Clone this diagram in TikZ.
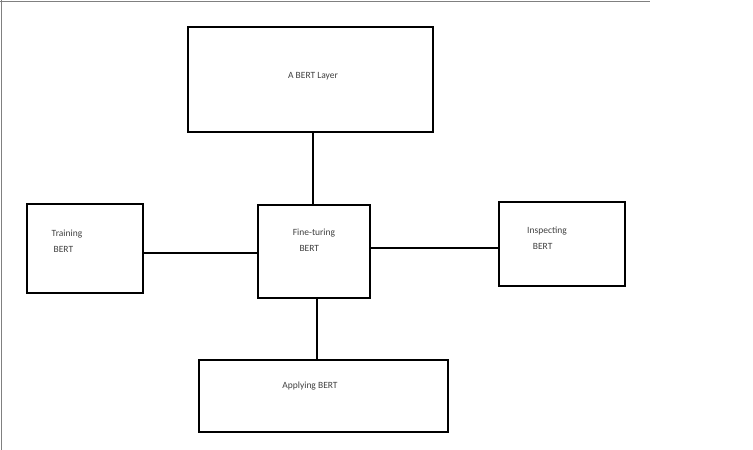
\documentclass[tikz,border=0pt]{standalone}
\usepackage{fontspec}
\setmainfont{Carlito}
\tikzset{
  box/.style   = {shape=rectangle, draw, line width=1.6pt, inner sep=0pt},
  lbl/.style   = {align=left, font=\fontsize{9.5}{16}\selectfont, text=black!75},
  link/.style  = {line width=1.6pt}
}
\begin{document}
\begin{tikzpicture}[x=1pt,y=-1pt]
 \useasboundingbox (0,0) rectangle (753,450);
 \draw[gray, line width=1pt] (0,1) -- (650,1);
 \draw[gray, line width=1pt] (1,0) -- (1,450);

 % boxes
 \node[box, minimum width=245pt, minimum height=105pt] (layer) at (310.5,79.5) {};
 \node[box, minimum width=112pt, minimum height=93pt]  (fine)  at (314,251.5) {};
 \node[box, minimum width=116pt, minimum height=89pt]  (train) at (85,248.5) {};
 \node[box, minimum width=126pt, minimum height=84pt]  (insp)  at (562,244) {};
 \node[box, minimum width=249pt, minimum height=72pt]  (apply) at (323.5,396) {};

 % texts
 \node[lbl] (layerT) at (313,76)  {A BERT Layer};
 \node[lbl] (fineT)  at (314,240) {Fine-turing\\\hspace*{0.7em}BERT};
 \node[lbl] (trainT) at (67,241)  {Training\\\hspace*{0.2em}BERT};
 \node[lbl] (inspT)  at (547,238) {Inspecting\\\hspace*{0.6em}BERT};
 \node[lbl] (applyT) at (310,386) {Applying BERT};

 % links
 \draw[link] (layer.south -| 313,0) -- (fine.north -| 313,0);
 \draw[link] (fine.south -| 317,0) -- (apply.north -| 317,0);
 \draw[link] (train.east |- 0,253) -- (fine.west |- 0,253);
 \draw[link] (fine.east |- 0,248) -- (insp.west |- 0,248);
\end{tikzpicture}
\end{document}
